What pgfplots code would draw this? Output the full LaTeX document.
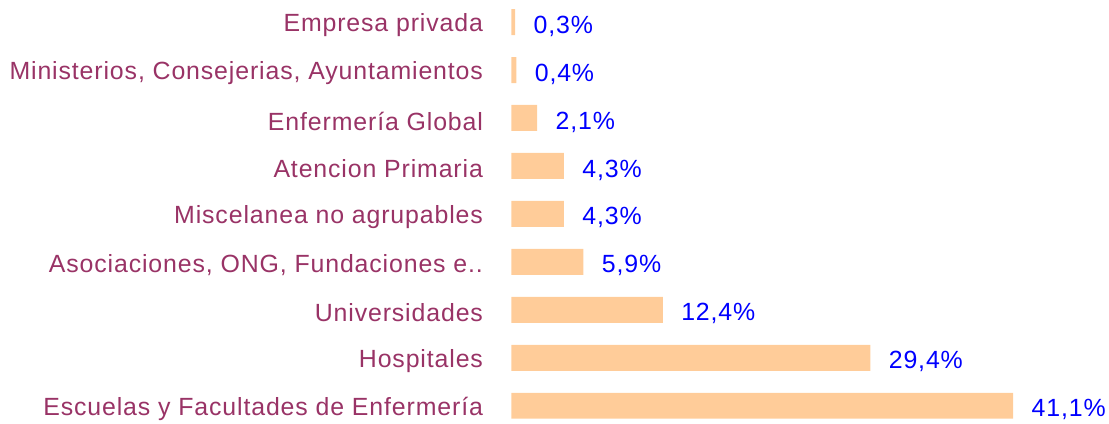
\documentclass[border=0pt]{standalone}
\usepackage{fontspec}
\setmainfont[LetterSpace=3.5]{Liberation Sans}
\usepackage{pgfplots}
\pgfplotsset{compat=1.18}
\definecolor{barc}{RGB}{255,204,153}
\definecolor{labc}{RGB}{153,51,102}
\definecolor{valc}{RGB}{0,0,255}
\pgfplotstableread{
y val
0 41.1
1 29.4
2 12.4
3 5.9
4 4.3
5 4.3
6 2.1
7 0.4
8 0.3
}\datatable
\begin{document}
\begin{tikzpicture}
\begin{axis}[
  name=ax,
  xbar,
  width=597bp, height=423bp, scale only axis,
  xmin=0, xmax=48.85,
  ymin=-0.35, ymax=8.46,
  bar width=26bp,
  axis line style={draw=none},
  xtick=\empty,
  ytick={0,1,2,3,4,5,6,7,8},
  yticklabels={Escuelas y Facultades de Enfermería, Hospitales, Universidades, {Asociaciones, ONG, Fundaciones e..}, Miscelanea no agrupables, Atencion Primaria, Enfermería Global, {Ministerios, Consejerias, Ayuntamientos}, Empresa privada},
  major tick length=0pt,
  y tick label style={font=\fontsize{25}{29}\selectfont, text=labc, anchor=east, xshift=-25bp, yshift=-3bp},
  /pgf/number format/assume math mode=true,
  point meta=x,
  nodes near coords={\pgfmathprintnumber[fixed,fixed zerofill,precision=1,use comma]{\pgfplotspointmeta}\%},
  nodes near coords style={font=\fontsize{25}{29}\selectfont, text=valc, anchor=west, xshift=15bp, yshift=-4bp},
  clip=false,
]
\addplot[fill=barc, draw=none] table[x=val, y=y] {\datatable};
\end{axis}
\path ([xshift=-512bp]ax.south west) -- (ax.north east);
\end{tikzpicture}
\end{document}
